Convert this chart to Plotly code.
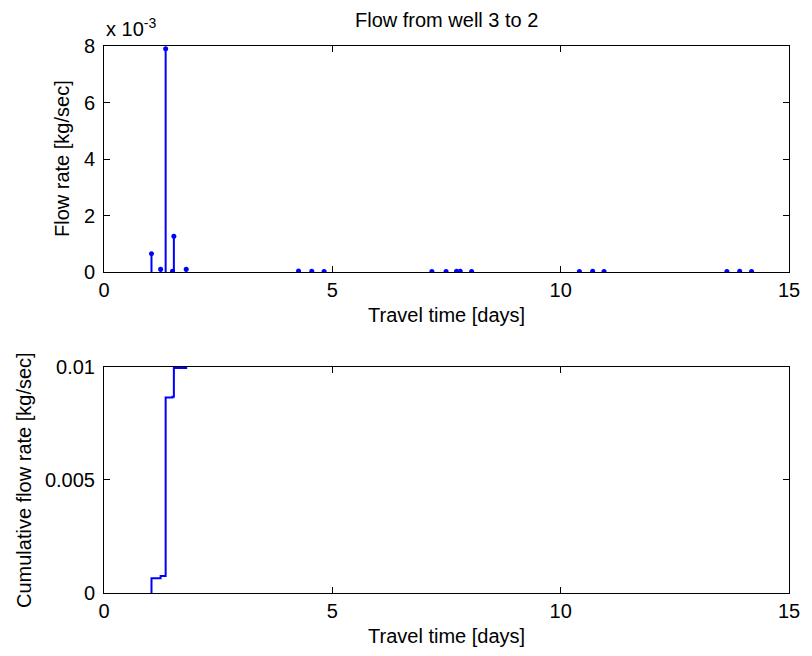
import numpy as np
import plotly.graph_objects as go
from plotly.subplots import make_subplots

# Arrival times of flow from well 3 to well 2 [days]
travel_time = [1.04, 1.24, 1.35, 1.50, 1.53, 1.80,
               4.26, 4.55, 4.82,
               7.18, 7.49, 7.72, 7.80, 8.05,
               10.41, 10.70, 10.95,
               13.64, 13.92, 14.18]

# Flow rate carried by each arrival [kg/sec]
flow_rate = [0.65e-3, 0.10e-3, 7.90e-3, 0.03e-3, 1.27e-3, 0.10e-3,
             0.04e-3, 0.03e-3, 0.02e-3,
             0.02e-3, 0.02e-3, 0.03e-3, 0.03e-3, 0.02e-3,
             0.02e-3, 0.03e-3, 0.02e-3,
             0.02e-3, 0.03e-3, 0.02e-3]

x_ticks = [0, 5, 10, 15]
top_y_ticks = [0, 2e-3, 4e-3, 6e-3, 8e-3]
top_y_labels = ["0", "2", "4", "6", "8"]
bottom_y_ticks = [0, 0.005, 0.01]
bottom_y_labels = ["0", "0.005", "0.01"]

BLUE = "rgb(0,0,255)"
FONT = "Liberation Sans, Arial, sans-serif"
FS = 20

TOP_DOMAIN = [0.5868, 1.0]
BOTTOM_DOMAIN = [0.0, 0.4132]

fig = make_subplots(rows=2, cols=1)

# stems: vertical segment from zero to each flow value
stem_x, stem_y = [], []
for t, q in zip(travel_time, flow_rate):
    stem_x += [t, t, None]
    stem_y += [0, q, None]

fig.add_trace(go.Scatter(x=stem_x, y=stem_y, mode="lines",
                         line=dict(color=BLUE, width=2),
                         hoverinfo="skip", showlegend=False), row=1, col=1)
fig.add_trace(go.Scatter(x=travel_time, y=flow_rate, mode="markers",
                         marker=dict(color=BLUE, size=5, symbol="circle"),
                         showlegend=False), row=1, col=1)

# cumulative flow as a staircase
cum = np.cumsum(flow_rate)
fig.add_trace(go.Scatter(x=[travel_time[0]] + travel_time,
                         y=[0.0] + list(cum), mode="lines",
                         line=dict(color=BLUE, width=2, shape="hv"),
                         showlegend=False), row=2, col=1)

axis_common = dict(showline=True, linecolor="black", linewidth=1,
                   mirror="ticks", ticks="inside", ticklen=6,
                   tickcolor="black", showgrid=False, zeroline=False,
                   tickfont=dict(family=FONT, size=FS, color="black"))

fig.update_xaxes(range=[0, 15], tickvals=x_ticks, **axis_common)
fig.update_yaxes(range=[0, 8e-3], tickvals=top_y_ticks,
                 ticktext=top_y_labels, ticklabelstandoff=4,
                 row=1, col=1, **axis_common)
fig.update_yaxes(range=[0, 0.01], tickvals=bottom_y_ticks,
                 ticktext=bottom_y_labels, ticklabelstandoff=4,
                 row=2, col=1, **axis_common)

fig.update_layout(
    width=812, height=656,
    margin=dict(l=104, r=15, t=46, b=63),
    paper_bgcolor="white", plot_bgcolor="white",
    xaxis=dict(domain=[0, 1]),
    yaxis=dict(domain=TOP_DOMAIN),
    xaxis2=dict(domain=[0, 1]),
    yaxis2=dict(domain=BOTTOM_DOMAIN),
    font=dict(family=FONT, size=FS, color="black"),
)

txt = dict(showarrow=False, font=dict(family=FONT, size=FS, color="black"),
           xref="paper", yref="paper")
fig.add_annotation(text="Flow from well 3 to 2", x=0.5, y=1.0,
                   xanchor="center", yanchor="bottom", yshift=13, **txt)
fig.add_annotation(text="x 10<sup>-3</sup>", x=0.0, y=1.0,
                   xanchor="left", yanchor="bottom", yshift=4, **txt)
fig.add_annotation(text="Travel time [days]", x=0.5, y=TOP_DOMAIN[0],
                   xanchor="center", yanchor="top", yshift=-30, **txt)
fig.add_annotation(text="Travel time [days]", x=0.5, y=BOTTOM_DOMAIN[0],
                   xanchor="center", yanchor="top", yshift=-30, **txt)
fig.add_annotation(text="Flow rate [kg/sec]", x=0.0,
                   y=sum(TOP_DOMAIN) / 2, xanchor="center", yanchor="middle",
                   xshift=-42, textangle=-90, **txt)
fig.add_annotation(text="Cumulative flow rate [kg/sec]", x=0.0,
                   y=sum(BOTTOM_DOMAIN) / 2, xanchor="center",
                   yanchor="middle", xshift=-80, textangle=-90, **txt)

fig.write_html("out.html")
